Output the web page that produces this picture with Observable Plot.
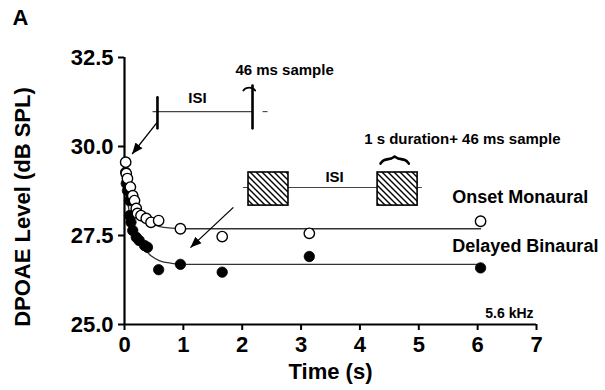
<!DOCTYPE html>
<html><head><meta charset="utf-8">
<script src="https://cdn.jsdelivr.net/npm/d3@7"></script>
<script src="https://cdn.jsdelivr.net/npm/@observablehq/plot@0.6"></script>
<style>
html,body{margin:0;padding:0;background:#fff;}
#chart svg{display:block;}
</style></head><body><div id="chart"></div>
<script>
// Measured data
const onsetT = [0.02,0.03,0.05,0.10,0.14,0.17,0.20,0.22,0.28,0.37,0.45,0.58,0.95,1.66,3.14,6.05];
const onsetY = [29.56,29.24,29.10,28.86,28.62,28.48,28.26,28.12,28.06,27.98,27.87,27.92,27.69,27.47,27.56,27.90];
const delayedT = [0.02,0.03,0.05,0.085,0.085,0.11,0.14,0.20,0.25,0.34,0.39,0.58,0.95,1.66,3.14,6.05];
const delayedY = [29.28,28.96,28.76,28.48,28.06,27.87,27.64,27.45,27.36,27.22,27.17,26.54,26.69,26.47,26.91,26.59];
// Fitted curves
const fitT = [0.02,0.1,0.2,0.3,0.45,0.6,0.8,1.0,6.05];
const onsetFit = [29.1,28.6,28.25,28.0,27.85,27.75,27.71,27.69,27.69];
const delayedFit = [28.8,28.0,27.5,27.2,26.93,26.79,26.72,26.69,26.69];
// Axes
const xTicks = [0,1,2,3,4,5,6,7];
const yTicks = [25,27.5,30,32.5];
// Schematic annotations (data units)
const pulseX = [0.56, 2.175];
const pulseY1 = [30.51, 30.51];
const pulseY2 = [31.38, 31.71];
const isiSegX1 = [0.476, 2.345];
const isiSegX2 = [2.175, 2.43];
const isiSegY = [30.98, 30.98];
const boxX1 = [2.107, 4.30];
const boxX2 = [2.786, 4.98];
const boxY1 = [28.34, 28.34];
const boxY2 = [29.27, 29.27];
const box2LineX = [2.02, 5.06];
const box2LineY = 28.85;
const brace1X = [2.02, 2.07, 2.17, 2.22];
const brace1Y = [31.57, 31.64, 31.64, 31.57];
const brace2X = [4.35, 4.40, 4.55, 4.59, 4.63, 4.78, 4.83];
const brace2Y = [29.52, 29.64, 29.65, 29.75, 29.65, 29.64, 29.52];
const arrowX1 = [0.555, 1.85];
const arrowY1 = [30.68, 28.29];
const arrowX2 = [0.13, 1.12];
const arrowY2 = [29.79, 27.16];
const smallLabels = ["ISI", "46 ms sample", "ISI", "1 s duration+ 46 ms sample"];
const smallLabelX = [1.24, 2.72, 3.57, 5.74];
const smallLabelY = [31.35, 32.13, 29.13, 30.2];
const seriesLabels = ["Onset Monaural", "Delayed Binaural"];
const seriesLabelX = [5.57, 5.57];
const seriesLabelY = [28.57, 27.19];
const freqLabel = "5.6 kHz";
const freqX = 6.95, freqY = 25.31;
const yTitle = "DPOAE Level (dB SPL)", yTitleX = -1.73, yTitleY = 28.3;
const xTitle = "Time (s)";
const panel = "A", panelX = -1.77, panelY = 33.6;

const onset = onsetT.map((t,i)=>({t, y: onsetY[i]}));
const delayed = delayedT.map((t,i)=>({t, y: delayedY[i]}));
const fitOnset = fitT.map((t,i)=>({t, y: onsetFit[i]}));
const fitDelayed = fitT.map((t,i)=>({t, y: delayedFit[i]}));
const pulses = pulseX.map((x,i)=>({x, y1: pulseY1[i], y2: pulseY2[i]}));
const isiSegs = isiSegX1.map((x1,i)=>({x1, x2: isiSegX2[i], y: isiSegY[i]}));
const boxes = boxX1.map((x1,i)=>({x1, x2: boxX2[i], y1: boxY1[i], y2: boxY2[i]}));
const brace1 = brace1X.map((x,i)=>({x, y: brace1Y[i]}));
const brace2 = brace2X.map((x,i)=>({x, y: brace2Y[i]}));
const arrows = arrowX1.map((x1,i)=>({x1, y1: arrowY1[i], x2: arrowX2[i], y2: arrowY2[i]}));
const small = smallLabels.map((s,i)=>({s, x: smallLabelX[i], y: smallLabelY[i]}));
const series = seriesLabels.map((s,i)=>({s, x: seriesLabelX[i], y: seriesLabelY[i]}));

function filledArrow(color, context) {
  const ns = "http://www.w3.org/2000/svg";
  const doc = (context && context.document) || document;
  const m = doc.createElementNS(ns, "marker");
  m.setAttribute("viewBox", "-11 -5 11 10");
  m.setAttribute("markerWidth", "11");
  m.setAttribute("markerHeight", "10");
  m.setAttribute("markerUnits", "userSpaceOnUse");
  m.setAttribute("refX", "0");
  m.setAttribute("refY", "0");
  m.setAttribute("orient", "auto");
  const p = doc.createElementNS(ns, "path");
  p.setAttribute("d", "M-11,-4.5L0,0L-11,4.5Z");
  p.setAttribute("fill", "#000");
  p.setAttribute("stroke", "none");
  m.appendChild(p);
  return m;
}

const font = "'Liberation Sans', Arial, Helvetica, sans-serif";

const chart = Plot.plot({
  width: 605,
  height: 390,
  marginLeft: 124,
  marginRight: 69,
  marginTop: 57,
  marginBottom: 66,
  x: {domain: [0, 7]},
  y: {domain: [25, 32.5]},
  style: {fontFamily: font, fontWeight: "bold", background: "#fff", color: "#000"},
  marks: [
    // axes
    Plot.axisX({ticks: xTicks, tickSize: 6, tickPadding: 6, fontSize: 22, strokeWidth: 2, label: null, tickFormat: d3.format("d")}),
    Plot.axisY({ticks: yTicks, tickSize: 6, tickPadding: 5, fontSize: 22, strokeWidth: 2, label: null, tickFormat: d3.format(".1f")}),
    Plot.ruleY([25], {x1: 0, x2: 7, strokeWidth: 2.2}),
    Plot.ruleX([0], {y1: 25, y2: 32.5, strokeWidth: 2.2}),
    // fits
    Plot.line(fitOnset, {x: "t", y: "y", curve: "monotone-x", stroke: "#333", strokeWidth: 1.3}),
    Plot.line(fitDelayed, {x: "t", y: "y", curve: "monotone-x", stroke: "#333", strokeWidth: 1.3}),
    // inset 1
    Plot.link(isiSegs, {x1: "x1", x2: "x2", y1: "y", y2: "y", stroke: "#444", strokeWidth: 1.1}),
    Plot.link(pulses, {x1: "x", x2: "x", y1: "y1", y2: "y2", stroke: "#000", strokeWidth: 2.6, strokeLinecap: "round"}),
    Plot.line(brace1, {x: "x", y: "y", curve: "natural", stroke: "#000", strokeWidth: 1.8}),
    // inset 2
    Plot.ruleY([box2LineY], {x1: box2LineX[0], x2: box2LineX[1], stroke: "#444", strokeWidth: 1.1}),
    Plot.rect(boxes, {x1: "x1", x2: "x2", y1: "y1", y2: "y2", fill: "white", inset: 0}),
    Plot.rect(boxes, {x1: "x1", x2: "x2", y1: "y1", y2: "y2", fill: "url(#hatch)", stroke: "#000", strokeWidth: 1.6, inset: 0}),
    Plot.line(brace2, {x: "x", y: "y", curve: "basis", stroke: "#000", strokeWidth: 2.6}),
    // arrows
    Plot.link(arrows, {x1: "x1", y1: "y1", x2: "x2", y2: "y2", stroke: "#000", strokeWidth: 1.3, markerEnd: filledArrow}),
    // data
    Plot.dot(delayed, {x: "t", y: "y", r: 5.2, fill: "#000", stroke: "#000", strokeWidth: 0.8}),
    Plot.dot(onset, {x: "t", y: "y", r: 5.2, fill: "#fff", stroke: "#000", strokeWidth: 1.4}),
    // labels
    Plot.text(small, {x: "x", y: "y", text: "s", fontSize: 15, fontWeight: "bold", fill: "#000"}),
    Plot.text(series, {x: "x", y: "y", text: "s", fontSize: 18, fontWeight: "bold", textAnchor: "start", fill: "#000"}),
    Plot.text([freqLabel], {x: freqX, y: freqY, text: d => d, fontSize: 14, fontWeight: "bold", textAnchor: "end", fill: "#000"}),
    Plot.text([xTitle], {frameAnchor: "bottom", dy: 54, text: d => d, fontSize: 22, fontWeight: "bold", fill: "#000"}),
    Plot.text([yTitle], {x: yTitleX, y: yTitleY, rotate: -90, text: d => d, fontSize: 22, fontWeight: "bold", fill: "#000", textAnchor: "middle", lineAnchor: "middle"}),
    Plot.text([panel], {x: panelX, y: panelY, text: d => d, fontSize: 22, fontWeight: "bold", fill: "#000", textAnchor: "middle", lineAnchor: "middle"})
  ]
});

// hatch pattern definition
const ns = "http://www.w3.org/2000/svg";
const defs = document.createElementNS(ns, "defs");
const pat = document.createElementNS(ns, "pattern");
pat.setAttribute("id", "hatch");
pat.setAttribute("patternUnits", "userSpaceOnUse");
pat.setAttribute("width", "6");
pat.setAttribute("height", "6");
const hp = document.createElementNS(ns, "path");
hp.setAttribute("d", "M-1,-1L7,7M-1,5L1,7M5,-1L7,1");
hp.setAttribute("stroke", "#000");
hp.setAttribute("stroke-width", "1.4");
pat.appendChild(hp);
defs.appendChild(pat);
chart.insertBefore(defs, chart.firstChild);

document.getElementById("chart").appendChild(chart);
</script>
</body></html>
